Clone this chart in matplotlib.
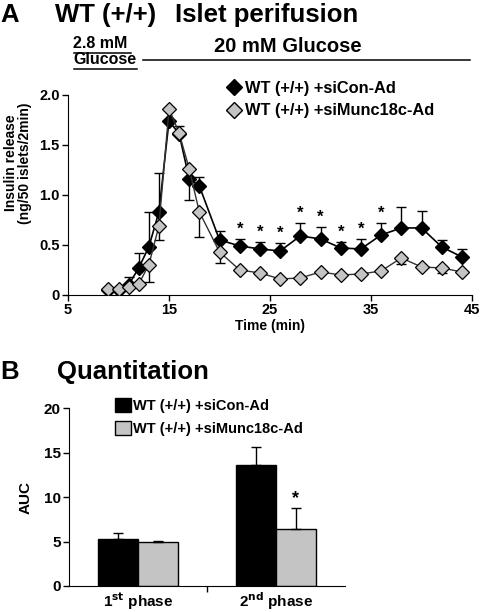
import matplotlib
matplotlib.use("Agg")
import matplotlib.pyplot as plt
from matplotlib.lines import Line2D
from matplotlib.patches import Patch

plt.rcParams["font.family"] = ["Liberation Sans", "DejaVu Sans"]
plt.rcParams["font.weight"] = "bold"

# panel A: perifusion time course
time_min = [9, 10, 11, 12, 13, 14, 15, 16, 17, 18, 20, 22, 24, 26, 28, 30, 32, 34, 36, 38, 40, 42, 44]
con = [0.05, 0.05, 0.10, 0.27, 0.48, 0.83, 1.74, 1.61, 1.16, 1.09, 0.55, 0.49, 0.46,
       0.44, 0.59, 0.56, 0.47, 0.46, 0.60, 0.67, 0.67, 0.48, 0.38]
con_err_up = [0, 0, 0.08, 0.15, 0.35, 0.39, 0, 0.08, 0, 0.09, 0.09, 0.07, 0.07,
              0.08, 0.13, 0.12, 0.06, 0.10, 0.12, 0.21, 0.17, 0.07, 0.08]
con_err_down = [0, 0, 0, 0, 0, 0, 0, 0, 0.21, 0, 0, 0, 0, 0, 0, 0, 0, 0, 0, 0, 0, 0, 0]
mun = [0.06, 0.06, 0.08, 0.11, 0.30, 0.69, 1.86, 1.62, 1.26, 0.83, 0.43, 0.25, 0.22,
       0.16, 0.17, 0.23, 0.20, 0.21, 0.24, 0.37, 0.28, 0.27, 0.23]
mun_err_down = [0, 0, 0, 0, 0.17, 0.14, 0, 0, 0, 0.25, 0.11, 0.02, 0,
                0, 0, 0, 0, 0, 0, 0.06, 0, 0.05, 0]
star_times = [22, 24, 26, 28, 30, 32, 34, 36]

# panel B: AUC
phases = ["1$^{\\mathbf{st}}$ phase", "2$^{\\mathbf{nd}}$ phase"]
auc_con = [5.3, 13.6]
auc_con_err = [0.7, 2.0]
auc_mun = [4.9, 6.4]
auc_mun_err = [0.2, 2.4]

lab_con = "WT (+/+) +siCon-Ad"
lab_mun = "WT (+/+) +siMunc18c-Ad"
grey = "#c4c4c4"

fig = plt.figure(figsize=(4.8, 6.12), dpi=100)

# ---------- panel A ----------
ax = fig.add_axes([0.1417, 0.518, 0.8417, 0.327])
ax.errorbar(time_min, con, yerr=[con_err_down, con_err_up], fmt="none",
            ecolor="black", elinewidth=1, capsize=3.5, capthick=1, zorder=2)
ax.errorbar(time_min, mun, yerr=[mun_err_down, [0] * len(mun)], fmt="none",
            ecolor="black", elinewidth=1, capsize=3.5, capthick=1, zorder=2)
ax.plot(time_min, con, color="black", lw=1.2, marker="D", ms=7,
        mfc="black", mec="black", zorder=3)
ax.plot(time_min, mun, color="#333333", lw=1.0, marker="D", ms=7,
        mfc=grey, mec="black", mew=0.9, zorder=4)
for t in star_times:
    i = time_min.index(t)
    ax.text(t, con[i] + con_err_up[i] + 0.02, "*", ha="center", va="bottom",
            fontsize=12, fontweight="bold")

ax.set_xlim(5, 45)
ax.set_ylim(0, 2.0)
ax.set_xticks([5, 15, 25, 35, 45])
ax.set_yticks([0, 0.5, 1.0, 1.5, 2.0])
ax.set_yticklabels(["0", "0.5", "1.0", "1.5", "2.0"])
ax.spines["top"].set_visible(False)
ax.spines["right"].set_visible(False)
ax.tick_params(direction="out", length=4, width=1, labelsize=10.5, pad=2)
for lab in ax.get_xticklabels() + ax.get_yticklabels():
    lab.set_fontweight("bold")
ax.set_xlabel("Time (min)", fontsize=10, fontweight="bold", labelpad=1)
ax.set_ylabel("Insulin release\n(ng/50 islets/2min)", fontsize=10,
              fontweight="bold", linespacing=1.0)
ax.yaxis.set_label_coords(-0.09, 0.66)

handles_a = [
    Line2D([], [], ls="none", marker="D", ms=8.5, mfc="black", mec="black"),
    Line2D([], [], ls="none", marker="D", ms=8.5, mfc=grey, mec="black"),
]
ax.legend(handles_a, [lab_con, lab_mun], loc="upper left",
          bbox_to_anchor=(0.375, 1.11), frameon=False,
          handlelength=0.8, handletextpad=0.25, borderpad=0, labelspacing=0.45,
          prop={"weight": "bold", "size": 11.8})

fig.text(0.0, 0.975, "A", fontsize=18.5, fontweight="bold", va="center", ha="left")
fig.text(55 / 480, 0.975, "WT (+/+)", fontsize=18.5,
         fontweight="bold", va="center", ha="left")
fig.text(175 / 480, 0.975, "Islet perifusion", fontsize=18.5,
         fontweight="bold", va="center", ha="left")
fig.text(73 / 480, 1 - 44 / 612, "2.8 mM", fontsize=11.5, fontweight="bold",
         ha="left", va="center")
fig.text(73 / 480, 1 - 60 / 612, "Glucose", fontsize=11.5, fontweight="bold",
         ha="left", va="center")
fig.text(288 / 480, 1 - 47 / 612, "20 mM Glucose", fontsize=14.5,
         fontweight="bold", ha="center", va="center")
for x0, x1, y in [(74, 131, 52.5), (74, 137, 68.5), (143, 470, 59.5)]:
    fig.add_artist(Line2D([x0 / 480, x1 / 480], [1 - y / 612, 1 - y / 612],
                          color="black", lw=1.1))

# ---------- panel B ----------
bx = fig.add_axes([0.144, 0.0425, 0.574, 0.2905])
pos = list(range(len(phases)))
w = 0.29
bx.bar([p - w / 2 for p in pos], auc_con, w, color="black", edgecolor="black",
       lw=1, yerr=[[0] * 2, auc_con_err], capsize=3.5,
       error_kw={"elinewidth": 1, "capthick": 1}, label=lab_con)
bx.bar([p + w / 2 for p in pos], auc_mun, w, color=grey, edgecolor="black",
       lw=1, yerr=[[0] * 2, auc_mun_err], capsize=3.5,
       error_kw={"elinewidth": 1, "capthick": 1}, label=lab_mun)
bx.text(1 + w / 2, auc_mun[1] + auc_mun_err[1] + 0.1, "*", ha="center",
        va="bottom", fontsize=13, fontweight="bold")

bx.set_xlim(-0.5, 1.5)
bx.set_ylim(0, 20)
bx.set_yticks([0, 5, 10, 15, 20])
bx.set_xticks([0.5], minor=False)
bx.set_xticklabels([""])
bx.set_xticks(pos, minor=True)
bx.set_xticklabels(phases, minor=True)
bx.tick_params(axis="x", which="minor", length=0, labelsize=11, pad=3)
bx.tick_params(axis="x", which="major", direction="out", length=4, width=1)
bx.tick_params(axis="y", direction="out", length=4, width=1, labelsize=11, pad=2)
for lab in bx.get_xticklabels(minor=True) + bx.get_yticklabels():
    lab.set_fontweight("bold")
bx.spines["top"].set_visible(False)
bx.spines["right"].set_visible(False)
bx.set_ylabel("AUC", fontsize=11, fontweight="bold", labelpad=8)

handles_b = [Patch(facecolor="black", edgecolor="black"),
             Patch(facecolor=grey, edgecolor="black")]
bx.legend(handles_b, [lab_con, lab_mun], loc="upper left",
          bbox_to_anchor=(0.14, 1.10), frameon=False,
          handlelength=1.1, handleheight=1.1, handletextpad=0.15,
          borderpad=0, labelspacing=0.55, prop={"weight": "bold", "size": 10.5})

fig.text(0.0, 0.392, "B", fontsize=18.5, fontweight="bold", va="center", ha="left")
fig.text(57 / 480, 0.392, "Quantitation", fontsize=18.5, fontweight="bold",
         va="center", ha="left")

fig.savefig("out.png", dpi=100)
